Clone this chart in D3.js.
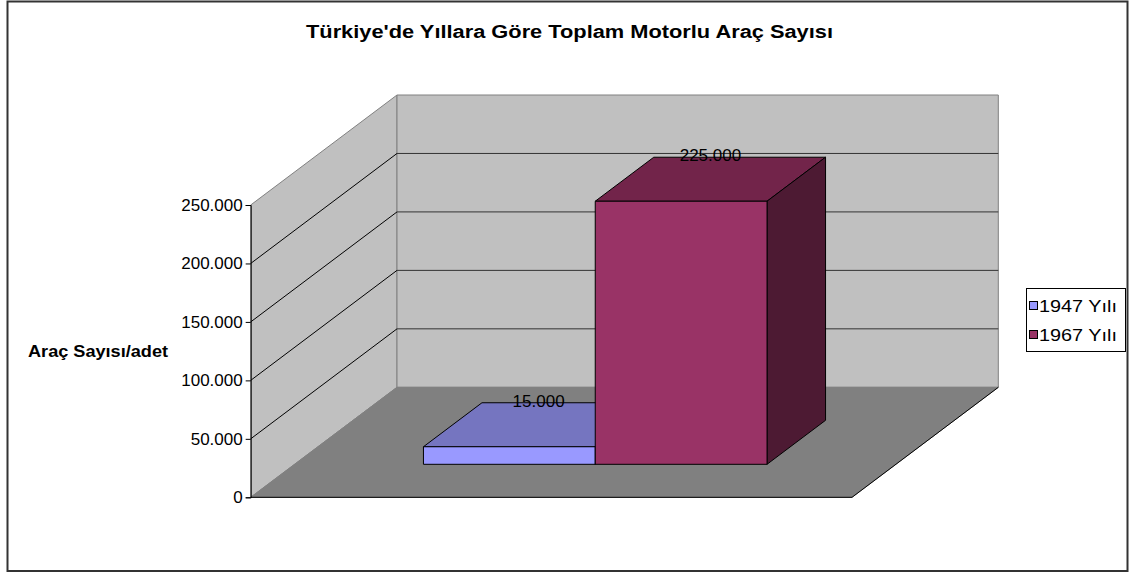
<!DOCTYPE html>
<html>
<head>
<meta charset="utf-8">
<script src="https://cdn.jsdelivr.net/npm/d3@7"></script>
<style>
  body { margin: 0; background: #fff; }
  text { font-family: "Liberation Sans", Arial, sans-serif; fill: #000; }
</style>
</head>
<body>
<script>
// data
var categories = ["Araç Sayısı"];
var seriesNames = ["1947 Yılı", "1967 Yılı"];
var seriesValues = [15000, 225000];
var tickValues = [0, 50000, 100000, 150000, 200000, 250000];
var tickLabels = ["0", "50.000", "100.000", "150.000", "200.000", "250.000"];
var valueLabels = ["15.000", "225.000"];

var frontColors = ["#9999FF", "#993366"];
var topColors = ["#7575C0", "#72244A"];
var sideColors = ["#5C5C99", "#4D1A33"];

var svg = d3.select("body").append("svg")
    .attr("width", 1134)
    .attr("height", 575);

// outer border
svg.append("rect")
    .attr("x", 7.5).attr("y", 1.5)
    .attr("width", 1120).attr("height", 569.5)
    .attr("fill", "#fff")
    .attr("stroke", "#333").attr("stroke-width", 2);

// 3d frame: front left corner, depth offsets
var x0 = 250.7, floorW = 601.3, depthX = 146.3, depthY = 110;

var y = d3.scaleLinear().domain([0, 250000]).range([497.3, 205]);
var x = d3.scaleBand().domain(seriesNames).range([0, floorW])
    .paddingInner(0).paddingOuter(0.75);

function proj(xu, v, z) {
  return [x0 + xu + z * depthX, y(v) - z * depthY];
}
function poly(pts) { return pts.map(function(p) { return p.join(","); }).join(" "); }

var g = svg.append("g");

// side wall
g.append("polygon")
    .attr("points", poly([proj(0, 0, 0), proj(0, 250000, 0), proj(0, 250000, 1), proj(0, 0, 1)]))
    .attr("fill", "#C0C0C0").attr("stroke", "#808080");
// back wall
g.append("polygon")
    .attr("points", poly([proj(0, 0, 1), proj(0, 250000, 1), proj(floorW, 250000, 1), proj(floorW, 0, 1)]))
    .attr("fill", "#C0C0C0").attr("stroke", "#808080");
// floor
g.append("polygon")
    .attr("points", poly([proj(0, 0, 0), proj(floorW, 0, 0), proj(floorW, 0, 1), proj(0, 0, 1)]))
    .attr("fill", "#808080").attr("stroke", "#808080");
g.append("polyline")
    .attr("points", poly([proj(0, 0, 0), proj(floorW, 0, 0), proj(floorW, 0, 1)]))
    .attr("fill", "none").attr("stroke", "#000");

// gridlines
var grid = tickValues.filter(function(d) { return d > 0 && d < 250000; });
g.selectAll(".gside").data(grid).enter().append("line")
    .attr("x1", function(d) { return proj(0, d, 0)[0]; })
    .attr("y1", function(d) { return proj(0, d, 0)[1]; })
    .attr("x2", function(d) { return proj(0, d, 1)[0]; })
    .attr("y2", function(d) { return proj(0, d, 1)[1]; })
    .attr("stroke", "#000");
g.selectAll(".gback").data(grid).enter().append("line")
    .attr("x1", function(d) { return proj(0, d, 1)[0]; })
    .attr("y1", function(d) { return proj(0, d, 1)[1]; })
    .attr("x2", function(d) { return proj(floorW, d, 1)[0]; })
    .attr("y2", function(d) { return proj(floorW, d, 1)[1]; })
    .attr("stroke", "#333");

// value axis
var axis = svg.append("g")
    .attr("transform", "translate(" + x0 + ",0)")
    .call(d3.axisLeft(y).tickValues(tickValues).tickSize(5)
      .tickFormat(function(d, i) { return tickLabels[i]; }));
axis.select(".domain").attr("stroke", "#000");
axis.selectAll(".tick line").attr("stroke", "#000");
axis.selectAll(".tick text")
    .attr("x", -8)
    .style("font-family", "Liberation Sans, Arial, sans-serif")
    .style("font-size", "17px");

// bars
var z1 = 0.3, z2 = 0.7;
var bars = g.selectAll(".bar").data(seriesValues).enter().append("g");
bars.append("polygon")  // top
    .attr("points", function(d, i) {
      var a = x(seriesNames[i]), b = a + x.bandwidth();
      return poly([proj(a, d, z1), proj(b, d, z1), proj(b, d, z2), proj(a, d, z2)]);
    })
    .attr("fill", function(d, i) { return topColors[i]; })
    .attr("stroke", "#000").attr("stroke-linejoin", "round");
bars.append("polygon")  // right side
    .attr("points", function(d, i) {
      var b = x(seriesNames[i]) + x.bandwidth();
      return poly([proj(b, 0, z1), proj(b, d, z1), proj(b, d, z2), proj(b, 0, z2)]);
    })
    .attr("fill", function(d, i) { return sideColors[i]; })
    .attr("stroke", "#000").attr("stroke-linejoin", "round");
bars.append("polygon")  // front
    .attr("points", function(d, i) {
      var a = x(seriesNames[i]), b = a + x.bandwidth();
      return poly([proj(a, 0, z1), proj(b, 0, z1), proj(b, d, z1), proj(a, d, z1)]);
    })
    .attr("fill", function(d, i) { return frontColors[i]; })
    .attr("stroke", "#000").attr("stroke-linejoin", "round");

// value labels
svg.selectAll(".vlabel").data(seriesValues).enter().append("text")
    .attr("x", function(d, i) { return proj(x(seriesNames[i]) + x.bandwidth() / 2, d, 0.5)[0]; })
    .attr("y", function(d, i) { return proj(0, d, z2)[1] + 4; })
    .attr("text-anchor", "middle")
    .style("font-size", "17px")
    .text(function(d, i) { return valueLabels[i]; });

// title
svg.append("text")
    .attr("x", 306).attr("y", 38)
    .attr("textLength", 527).attr("lengthAdjust", "spacingAndGlyphs")
    .style("font-size", "18px").style("font-weight", "bold")
    .text("Türkiye'de Yıllara Göre Toplam Motorlu Araç Sayısı");

// axis title
svg.append("text")
    .attr("x", 28).attr("y", 357)
    .attr("textLength", 140).attr("lengthAdjust", "spacingAndGlyphs")
    .style("font-size", "16px").style("font-weight", "bold")
    .text("Araç Sayısı/adet");

// legend
var leg = svg.append("g");
leg.append("rect")
    .attr("x", 1026.5).attr("y", 288.5).attr("width", 99).attr("height", 63)
    .attr("fill", "#fff").attr("stroke", "#000");
var items = leg.selectAll(".item").data(seriesNames).enter().append("g")
    .attr("transform", function(d, i) { return "translate(1029," + (305.5 + i * 29) + ")"; });
items.append("rect")
    .attr("x", 0.5).attr("y", -4).attr("width", 8).attr("height", 8)
    .attr("fill", function(d, i) { return frontColors[i]; })
    .attr("stroke", "#000");
items.append("text")
    .attr("x", 10).attr("y", 6)
    .attr("textLength", 78).attr("lengthAdjust", "spacingAndGlyphs")
    .style("font-size", "16px")
    .text(function(d) { return d; });
</script>
</body>
</html>
